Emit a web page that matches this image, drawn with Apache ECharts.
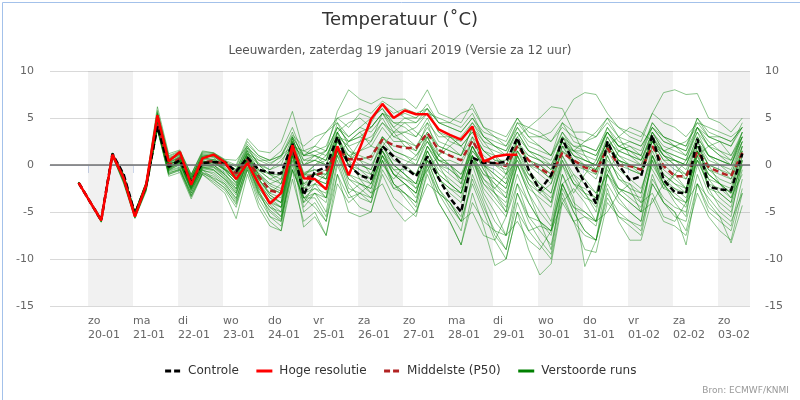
<!DOCTYPE html>
<html>
<head>
<meta charset="utf-8">
<script src="https://cdn.jsdelivr.net/npm/echarts@6/dist/echarts.min.js"></script>
<style>
html,body{margin:0;padding:0;background:#fff;}
#chart{width:800px;height:400px;}
</style>
</head>
<body>
<div id="chart"></div>
<script>
// ---- data ----
const dayNames = ['zo','ma','di','wo','do','vr','za','zo','ma','di','wo','do','vr','za','zo'];
const dayDates = ['20-01','21-01','22-01','23-01','24-01','25-01','26-01','27-01','28-01','29-01','30-01','31-01','01-02','02-02','03-02'];
// hours relative to 20-01 00:00 of first forecast step, and step size
const startHour = -5;
const stepHours = 6;

const controle = [-1.9,
 -3.9,-5.9,1.2,-1.0, -5.2,-2.2,4.1,-0.2, 0.5,-1.8,0.2,0.3, 0.3,-0.7,0.8,-0.5,
 -0.8,-0.9,2.3,-3.2, -0.7,-0.25,3.0,0.0, -1.1,-1.5,2.0,0.9, -0.25,-1.2,0.9,-1.4,
 -3.5,-5.0,0.8,0.2, 0.2,0.35,2.9,-0.5, -2.7,-1.1,2.8,0.2, -1.9,-4.1,2.5,0.0,
 -1.6,-1.2,3.2,-1.6, -2.9,-3.0,2.8,-2.3, -2.6,-2.7,1.2];

const hogeResolutie = [-1.9,
 -3.9,-5.9,1.1,-1.4, -5.5,-2.1,5.3,0.4, 1.4,-2.1,0.7,1.1, 0.3,-1.5,0.2,-2.0,
 -4.1,-3.0,2.1,-1.4, -1.5,-2.6,2.0,-1.1, 1.8,4.9,6.5,5.0, 5.8,5.4,5.4,3.8,
 3.2,2.7,4.1,0.35, 0.9,1.1,1.1];

const middelste = [-1.9,
 -3.9,-5.8,1.1,-1.3, -5.3,-2.2,4.5,0.0, 0.7,-1.9,0.3,0.4, 0.1,-0.9,0.6,-1.2,
 -2.7,-3.0,1.6,-1.4, -1.1,-0.7,1.8,0.6, 0.6,0.9,2.7,2.1, 1.8,1.8,3.4,1.6,
 1.0,0.5,2.6,0.5, 0.2,-0.1,2.0,0.5, -0.35,-1.1,1.3,0.5, -0.25,-0.7,1.8,0.0,
 -0.1,-0.5,2.0,-0.1, -1.2,-1.2,1.4,-0.2, -0.8,-1.2,1.3];

const member01 = [-1.9, -3.8,-5.8,1.2,-1.2, -5.4,-2.0,5.5,0.6, 1.3,-1.8,0.9,1.2, 0.5,-0.8,1.5,-1.5, -3.0,-2.0,2.5,-0.8, -0.5,-1.5,3.0,0.5, 2.5,4.5,6.5,5.5, 6.0,5.5,6.0,4.5, 4.0,3.5,5.0,3.0, 2.0,1.0,3.5,1.5, 0.5,-0.5,2.5,1.0, 0.0,-1.0,3.0,1.0, 0.5,0.0,3.5,1.5, 1.0,0.5,4.0,2.0, 1.0,0.0,3.5];
const member02 = [-1.9, -3.9,-6.0,1.0,-1.6, -5.6,-2.5,4.0,-0.5, 0.2,-2.8,-0.5,-1.0, -2.0,-3.5,0.0,-3.0, -5.0,-6.0,1.0,-4.5, -3.0,-5.0,1.5,-2.0, -3.5,-4.0,0.5,-2.5, -3.0,-4.5,0.0,-3.0, -5.0,-7.0,-1.0,-4.0, -7.5,-9.0,-3.0,-6.0, -8.0,-9.5,-2.5,-5.0, -7.0,-8.0,-1.0,-3.5, -5.0,-6.0,1.0,-2.0, -4.0,-5.5,1.5,-2.5, -4.5,-5.5,0.5];
const member03 = [-1.9, -3.9,-5.8,1.1,-1.3, -5.2,-2.1,4.6,0.0, 0.6,-2.0,0.3,0.5, 0.0,-1.0,1.0,-1.0, -2.5,-3.0,1.8,-1.5, -1.0,-0.5,2.0,1.0, 0.5,1.0,3.0,2.0, 2.0,1.5,3.5,1.5, 1.0,0.5,2.5,0.5, 0.0,-0.5,2.0,0.5, -0.5,-1.5,1.5,0.5, -0.5,-1.0,2.0,0.0, -0.5,-1.0,2.0,0.0, -1.0,-1.5,1.5,-0.5, -1.0,-1.5,1.5];
const member04 = [-2.0, -4.0,-6.1,1.3,-1.0, -5.0,-1.8,6.2,1.2, 1.6,-1.0,1.5,1.3, 0.5,0.0,2.8,1.5, 1.3,2.4,5.7,1.5, 2.0,1.5,5.7,8.0, 7.0,6.5,7.2,7.0, 7.0,6.0,8.0,5.5, 5.0,4.5,6.5,4.0, 3.5,3.0,5.0,3.0, 2.0,1.0,3.5,1.5, 0.5,0.0,2.5,0.5, -0.5,-1.0,2.5,1.0, 0.5,0.0,3.0,1.0, 0.0,-0.5,2.5];
const member05 = [-1.9, -3.9,-5.9,1.1,-1.5, -5.3,-2.3,4.2,-0.3, 0.5,-2.2,0.0,0.3, -0.5,-2.0,0.8,-1.0, -2.0,-1.5,2.8,0.0, 0.5,0.0,3.5,1.5, 1.0,0.5,3.0,1.5, 1.0,0.5,3.5,2.0, 1.5,1.0,4.0,2.5, 2.0,1.5,4.5,3.0, 3.0,3.5,5.0,7.0, 7.7,7.5,5.5,4.0, 3.5,3.0,5.5,7.7, 8.0,7.5,7.6,5.0, 4.5,3.5,5.0];
const member06 = [-1.9, -3.9,-5.9,1.2,-1.8, -5.5,-2.4,4.0,-0.8, -0.5,-3.0,-0.5,-1.5, -2.5,-4.0,-0.5,-3.5, -5.5,-6.5,0.5,-5.0, -4.0,-6.0,0.0,-3.0, -4.5,-5.0,-1.0,-3.5, -4.5,-5.5,-0.5,-3.0, -4.0,-5.5,0.0,-3.5, -6.0,-7.5,-2.0,-5.5, -7.0,-8.5,-3.0,-6.0, -9.0,-9.3,-4.0,-5.5, -6.5,-7.5,-2.0,-4.0, -5.5,-6.0,-1.0,-4.0, -5.5,-6.5,-1.5];
const member07 = [-1.9, -3.9,-5.8,1.0,-1.4, -5.2,-2.2,4.3,0.2, 0.8,-1.5,0.5,0.0, -1.0,-2.5,1.0,-2.0, -3.5,-4.5,1.5,-2.5, -2.0,-3.5,2.0,-1.0, -2.0,-3.0,1.0,-2.0, -3.0,-4.0,0.5,-2.5, -4.0,-6.0,-2.0,-5.0, -8.0,-10.0,-5.0,-9.0, -11.7,-10.5,-4.0,-6.0, -7.5,-8.0,-3.0,-5.0, -6.0,-7.0,-1.5,-3.5, -4.5,-5.0,0.0,-3.0, -4.0,-5.0,-0.5];
const member08 = [-1.9, -3.9,-5.9,1.1,-1.2, -5.3,-2.0,4.8,0.3, 0.9,-1.8,0.6,0.8, -0.5,-1.5,1.5,-0.5, -1.5,-2.0,2.0,-1.0, -0.5,-1.0,2.5,0.5, -0.5,-1.0,1.5,-1.0, -2.0,-3.5,0.0,-4.0, -6.0,-8.5,-3.0,-6.5, -10.7,-10.0,-5.0,-7.0, -6.5,-7.0,-1.0,-3.5, -10.8,-8.0,-3.5,-5.5, -6.0,-6.5,-2.0,-4.0, -5.0,-8.5,-2.0,-4.5, -5.5,-8.3,-4.3];
const member09 = [-1.9, -3.9,-5.9,1.2,-1.1, -5.0,-1.9,5.0,0.8, 1.2,-1.2,1.0,1.0, 0.2,-0.5,2.0,0.5, 0.5,1.0,3.5,0.5, 1.0,0.5,4.5,3.0, 4.0,5.0,6.0,4.5, 4.0,3.0,5.0,2.5, 2.0,1.0,4.0,2.0, 1.5,1.0,4.0,2.5, 2.0,1.0,4.5,2.5, 2.0,1.5,4.0,2.5, 2.0,1.5,4.5,3.0, 2.5,2.0,5.0,3.0, 2.5,2.0,4.0];
const member10 = [-1.9, -3.9,-6.0,1.0,-2.0, -5.7,-2.8,3.8,-1.2, -0.8,-3.6,-1.0,-2.0, -3.0,-5.7,-1.0,-4.5, -6.5,-7.0,-1.5,-6.0, -5.0,-7.5,-2.0,-4.0, -3.0,-2.0,1.0,-1.0, -1.5,-2.0,2.0,0.0, -1.0,-2.0,1.5,0.0, -1.0,-2.0,2.0,0.5, 0.0,-1.0,2.5,1.0, 0.5,0.0,3.0,1.0, 0.0,-0.5,3.0,1.5, 1.0,0.5,3.5,1.0, 0.5,0.0,3.0];
const member11 = [-1.8, -3.8,-5.7,1.2,-1.5, -5.4,-2.4,4.4,-0.5, 0.0,-2.5,-0.2,-0.5, -1.5,-3.0,0.5,-2.5, -4.0,-4.5,2.5,-3.5, -2.5,-3.0,3.5,0.0, -1.0,-1.5,2.0,0.0, -1.0,-2.0,1.5,-0.5, -1.5,-2.5,2.0,-0.5, -2.5,-3.5,1.0,-1.5, -3.0,-4.0,0.5,-2.0, -3.0,-3.5,1.0,-1.5, -2.5,-3.0,1.5,-1.0, -2.0,-3.0,1.0,-1.5, -2.0,-3.0,2.0];
const member12 = [-1.9, -3.9,-5.8,1.1,-1.0, -5.1,-2.0,4.9,0.5, 1.0,-1.3,0.8,1.0, 0.3,-0.5,2.2,1.0, 0.5,1.5,4.0,1.0, 1.5,2.0,5.0,4.0, 5.5,5.0,6.0,4.0, 3.0,2.0,3.0,0.0, -2.0,-3.0,1.0,-1.5, -3.0,-4.5,0.0,-3.0, -5.0,-6.5,-1.0,-4.0, -5.0,-6.0,0.0,-3.0, -4.0,-5.0,1.0,-2.0, -3.5,-4.0,2.0,-1.5, -3.0,-4.0,1.0];
const member13 = [-1.9, -3.9,-5.9,1.0,-1.3, -5.3,-2.3,4.5,-0.3, 0.4,-2.3,0.0,0.0, -0.8,-1.8,0.5,-1.5, -3.0,-3.5,2.0,-2.0, -1.5,-2.0,2.5,0.5, 1.5,2.5,4.5,3.0, 3.5,4.0,5.5,3.5, 2.5,2.0,3.5,1.5, 0.5,0.0,2.5,0.0, -1.0,-2.0,2.0,0.5, 0.0,-0.5,2.5,1.5, 1.0,0.5,3.5,1.5, 0.5,-0.5,2.5,0.5, 0.0,-1.0,2.5];
const member14 = [-1.9, -3.9,-5.9,1.1,-1.7, -5.5,-2.5,4.1,-0.7, -0.3,-3.0,-0.8,-1.2, -2.2,-3.8,0.2,-3.0, -4.5,-5.5,1.0,-4.0, -3.0,-4.0,1.0,-2.5, -3.0,-3.5,0.5,-2.0, -3.5,-5.0,-1.0,-4.0, -6.0,-8.5,-4.0,-6.0, -7.0,-7.5,-3.0,-5.5, -6.0,-7.0,-2.0,-4.5, -5.5,-6.0,-2.0,-4.0, -5.0,-6.0,-1.0,-4.0, -5.0,-7.0,-2.0,-5.0, -6.0,-7.0,-2.5];
const member15 = [-1.9, -3.9,-5.9,1.2,-1.3, -5.2,-2.1,4.7,0.2, 0.8,-1.6,0.6,0.6, -0.2,-1.2,1.2,-0.8, -2.0,-2.5,2.2,-1.2, 0.0,0.5,3.0,2.0, 2.5,3.0,4.5,3.5, 3.5,3.0,4.5,3.0, 3.0,2.5,4.5,3.0, 2.5,2.0,4.0,2.0, 1.5,1.0,3.0,2.0, 2.0,1.5,3.5,2.0, 2.5,2.0,4.0,2.5, 2.0,1.5,4.0,3.0, 3.0,2.5,4.0];
const member16 = [-1.9, -3.9,-5.8,1.1,-1.2, -5.2,-2.2,4.4,0.1, 0.5,-2.2,0.2,0.2, -0.5,-1.5,0.8,-1.2, -2.5,-3.0,3.0,-1.0, -1.0,-1.5,3.5,1.5, 0.5,0.0,2.0,0.5, 0.0,-1.0,2.0,0.0, -0.5,-1.5,2.0,0.0, -1.0,-2.0,1.5,-0.5, -2.0,-3.0,1.0,-1.0, -2.0,-3.0,1.5,-0.5, -1.5,-2.5,1.0,-1.0, -2.0,-2.5,1.5,-0.5, -1.5,-2.0,1.5];
const member17 = [-1.9, -3.9,-5.9,1.2,-1.4, -5.3,-2.3,4.3,-0.2, 0.3,-2.4,-0.3,-0.3, -1.3,-2.8,0.6,-2.0, -4.0,-5.0,1.5,-3.5, -3.5,-5.5,0.5,-3.0, -2.0,-2.5,1.5,-1.0, -2.0,-3.0,1.0,-1.5, -3.0,-4.0,0.5,-2.5, -4.0,-5.5,-1.0,-4.0, -6.0,-7.5,-2.0,-5.0, -7.0,-8.0,-2.5,-6.0, -8.0,-8.0,-3.5,-6.0, -6.5,-7.5,-3.0,-5.5, -7.0,-8.0,-3.0];
const member18 = [-1.9, -3.9,-5.9,1.1,-1.1, -5.1,-2.0,5.2,0.6, 1.1,-1.4,1.2,1.0, 0.0,-1.0,1.8,0.0, -1.0,-1.0,2.8,0.0, 1.0,0.5,4.0,3.0, 4.0,3.5,5.0,3.0, 2.5,1.5,4.5,1.0, 0.0,-2.0,3.0,0.0, -3.0,-5.0,1.0,-2.0, -4.0,-6.0,0.0,-3.0, -1.0,0.5,4.0,2.0, 1.5,1.0,4.5,3.0, 2.0,1.5,5.0,3.5, 3.0,2.5,4.0];
const member19 = [-1.9, -3.9,-6.0,1.1,-1.6, -5.4,-2.4,4.2,-0.6, -0.2,-2.7,-0.6,-0.8, -1.8,-3.2,0.4,-2.8, -4.5,-5.0,1.0,-3.0, -2.0,-2.5,2.0,0.0, -0.5,-1.5,1.5,-0.5, -1.5,-2.5,1.5,-1.0, -2.0,-3.0,1.0,-1.0, -1.5,-2.5,1.5,0.0, -0.5,-1.5,3.0,1.0, 0.5,0.0,2.5,0.5, 0.0,-1.0,3.0,1.0, 0.0,-1.0,2.5,0.0, -0.5,-1.5,2.0];
const member20 = [-1.9, -3.9,-5.9,1.0,-1.2, -5.3,-2.2,4.6,0.0, 0.7,-1.9,0.4,0.4, -0.3,-1.5,1.2,-0.5, -1.0,-1.5,2.5,0.5, 0.5,1.5,4.0,2.5, 3.0,2.5,5.5,4.0, 5.0,5.0,6.5,4.5, 4.5,4.0,5.5,3.0, 2.0,1.5,3.5,1.5, 1.0,0.0,2.5,0.5, 0.0,-0.5,2.0,0.5, 0.0,-0.5,2.5,0.5, 0.5,0.0,3.0,1.0, 0.5,0.0,3.0];
const member21 = [-1.9, -3.9,-6.0,0.9,-1.9, -5.6,-2.7,3.9,-1.0, -0.6,-3.3,-1.0,-1.8, -2.7,-4.5,-0.5,-4.0, -6.0,-7.0,-0.5,-6.6, -5.5,-7.5,-1.0,-5.0, -5.5,-5.0,-0.5,-2.5, -2.0,-3.0,1.0,-1.5, -2.5,-3.5,0.5,-2.0, -3.0,-4.0,0.0,-2.5, -3.5,-4.5,0.5,-2.0, -2.5,-3.5,1.0,-1.5, -2.0,-3.0,2.0,-0.5, -1.5,-2.5,1.5,-1.0, -2.0,-3.0,1.0];
const member22 = [-1.9, -3.9,-5.8,1.2,-1.1, -5.0,-1.8,5.6,0.9, 1.4,-1.1,1.3,1.2, 0.4,-0.2,2.5,1.0, 0.5,1.0,3.0,1.0, 1.5,1.0,3.0,2.5, 3.5,4.0,5.5,5.0, 5.5,5.0,6.0,4.5, 4.0,3.5,5.0,3.5, 3.0,2.5,5.0,3.5, 3.0,2.5,4.5,3.5, 3.5,3.0,4.5,3.0, 2.5,2.0,4.0,3.0, 2.5,2.0,4.5,3.0, 2.5,2.0,4.5];
const member23 = [-1.9, -3.9,-5.9,1.1,-1.4, -5.4,-2.3,4.4,-0.4, 0.2,-2.6,-0.4,-0.6, -1.5,-2.6,0.7,-1.8, -3.5,-4.0,2.0,-2.5, -1.5,-2.0,3.0,1.0, 0.0,-0.5,3.0,1.5, 1.0,0.0,3.0,0.5, 0.0,-1.5,2.0,-0.5, -2.0,-3.5,1.5,-1.0, -2.5,-4.0,1.0,-1.5, -3.0,-4.5,0.0,-2.5, -3.5,-4.5,0.5,-2.5, -3.0,-4.0,0.5,-2.0, -3.5,-4.5,0.0];
const member24 = [-1.9, -3.9,-5.9,1.0,-1.5, -5.3,-2.3,4.1,-0.4, 0.3,-2.4,-0.2,-0.2, -1.2,-2.5,0.2,-2.2, -3.8,-4.5,1.2,-3.0, -2.5,-3.5,1.5,-1.5, -2.5,-3.5,0.5,-2.0, -3.0,-4.0,0.5,-2.5, -4.5,-6.0,-1.5,-4.5, -7.0,-9.0,-4.0,-7.0, -8.5,-10.0,-3.5,-6.0, -5.5,-6.5,-1.0,-3.0, -4.0,-5.0,0.5,-2.0, -3.5,-4.5,1.0,-2.5, -3.0,-4.0,0.5];
const member25 = [-1.9, -3.9,-5.9,1.1,-1.3, -5.3,-2.2,4.7,0.3, 0.9,-1.5,0.8,0.5, -0.5,-1.0,1.3,0.0, -0.5,0.5,2.0,1.0, 2.0,3.5,4.5,2.0, 0.5,-1.0,2.0,3.5, 4.5,3.5,2.5,1.0, 3.0,2.0,0.5,-1.5, -2.5,-1.0,3.0,4.0, 5.0,6.2,6.0,3.5, 1.0,-0.5,2.0,3.0, 4.0,3.5,2.5,1.0, 0.0,-1.5,1.0,2.0, 2.5,1.0,3.0];
const member26 = [-1.9, -3.9,-6.0,1.0,-1.8, -5.5,-2.6,3.9,-0.9, -0.4,-3.2,-0.8,-1.6, -2.4,-4.2,-0.3,-3.2, -4.8,-5.8,0.0,-4.0, -2.0,-1.0,1.5,0.5, -1.5,-3.0,-2.0,-4.5, -6.0,-5.0,-2.0,-3.0, -4.0,-6.0,-5.0,-7.5, -8.0,-5.5,-2.0,-4.0, -6.0,-7.0,-4.0,-2.5, -4.0,-6.0,-5.0,-3.0, -2.0,-4.0,-3.0,-5.5, -6.0,-4.0,-2.0,-3.5, -5.0,-6.0,-3.0];
const member27 = [-1.9, -3.9,-5.9,1.1,-1.2, -5.2,-2.1,4.5,0.1, 0.6,-2.1,0.2,0.6, 0.2,-1.2,1.2,0.5, 0.0,1.0,2.0,1.5, 1.0,0.0,1.0,2.5, 3.5,2.0,1.5,0.0, -1.0,-2.5,-0.5,1.0, 2.0,3.0,4.5,2.5, 1.0,-1.0,0.5,-2.0, -3.0,-2.0,1.5,0.0, -1.5,-3.0,-1.0,1.5, 2.0,1.0,-0.5,-2.5, -1.0,0.5,2.0,0.0, -2.0,-3.0,0.0];
const member28 = [-1.9, -3.9,-5.8,1.2,-1.1, -5.1,-1.9,5.4,0.7, 1.2,-1.3,1.1,0.9, 0.1,-0.6,1.8,0.8, 0.2,0.8,3.2,2.0, 3.0,3.5,5.0,5.5, 6.0,5.5,6.8,6.0, 5.0,4.5,5.5,5.0, 4.5,5.5,6.0,4.0, 3.0,2.0,4.5,4.0, 3.5,2.5,4.0,3.0, 2.5,3.5,5.0,4.0, 3.0,2.5,5.5,4.5, 4.0,3.0,4.5,4.0, 3.5,3.0,4.0];
const member29 = [-1.9, -3.9,-5.9,1.1,-1.6, -5.4,-2.4,4.2,-0.6, 0.1,-2.6,-0.3,-0.5, -1.6,-3.0,0.3,-2.4, -4.2,-5.5,-0.5,-3.5, -4.5,-6.0,-1.0,-3.5, -3.0,-4.0,0.0,-1.5, 0.0,1.0,3.0,1.0, 0.0,-1.0,1.0,-3.0, -5.0,-7.5,-6.0,-8.0, -9.0,-7.0,-2.0,-1.0, -3.0,-5.0,0.5,-1.0, -2.5,-5.0,-4.0,-2.0, -1.0,-2.5,0.5,-1.0, -2.0,-3.5,-1.0];
const member30 = [-1.9, -3.9,-5.9,1.1,-1.3, -5.3,-2.3,4.4,-0.1, 0.5,-2.4,0.1,0.3, -0.4,-1.6,0.9,-0.6, -1.5,-1.0,1.5,0.0, 0.5,0.0,2.5,1.0, 1.5,2.0,4.0,2.5, 2.5,2.0,4.0,2.0, 1.5,1.0,3.0,1.5, 0.5,0.5,3.0,1.5, 1.0,0.5,3.5,2.0, 1.5,1.0,3.5,2.0, 1.5,0.5,3.0,1.0, 0.5,0.0,2.5,1.0, 0.5,0.0,2.5];
const member31 = [-1.9, -3.9,-6.0,1.0,-1.7, -5.6,-2.6,3.7,-1.0, -0.5,-3.4,-0.9,-1.4, -2.0,-3.6,-0.2,-2.6, -5.5,-6.0,-0.5,-3.5, -3.0,-3.5,1.0,-1.5, -2.0,-2.5,1.0,-0.5, -0.5,-1.0,2.0,0.5, 0.5,0.0,2.5,1.0, 0.0,-1.0,2.5,1.0, 0.5,-0.5,3.0,1.5, 1.0,0.5,3.5,2.0, 1.5,1.0,4.0,2.5, 2.0,1.0,3.5,2.0, 1.0,0.5,3.5];
const member32 = [-1.9, -3.9,-5.8,1.1,-1.0, -5.0,-1.9,5.8,1.0, 1.5,-1.0,1.4,1.3, 0.6,0.5,2.0,0.0, -1.0,-2.0,1.5,-1.0, 0.0,1.0,3.5,4.5, 5.0,4.0,5.5,3.5, 2.0,1.0,2.5,0.5, -0.5,-1.5,1.5,0.0, -1.5,-2.5,1.0,-1.0, -2.0,-3.0,2.0,1.5, 2.5,3.0,5.0,3.0, 1.0,0.0,2.5,1.5, 2.0,2.5,4.0,2.5, 1.5,0.5,3.0];
const member33 = [-1.9, -3.9,-5.9,1.2,-1.5, -5.4,-2.4,4.3,-0.4, 0.3,-2.5,-0.1,0.0, -1.0,-2.2,0.6,-1.4, -3.2,-4.0,1.2,-2.0, -1.0,-1.0,2.0,0.0, -1.0,-2.0,1.0,-1.0, -2.0,-3.0,0.5,-1.5, -2.5,-3.0,1.0,-1.0, -2.0,-3.0,0.5,-1.5, -2.5,-3.5,0.0,-2.0, -3.5,-4.0,-0.5,-2.5, -3.0,-4.0,0.0,-2.0, -2.5,-3.5,0.5,-2.0, -2.5,-3.5,0.5];
const member34 = [-1.9, -3.9,-5.9,1.0,-1.4, -5.3,-2.2,4.3,0.0, 0.6,-1.9,0.4,0.3, -0.6,-1.9,0.9,-1.0, -2.2,-2.8,2.2,-1.2, -1.0,-1.5,2.0,0.0, 0.0,-0.5,2.5,1.0, 0.5,0.0,2.5,0.5, 0.0,-1.0,2.0,0.0, -0.5,-1.5,2.5,0.5, 0.0,-1.0,2.0,0.0, -0.5,-1.5,2.0,0.5, 0.0,-0.5,2.5,0.5, -0.5,-1.0,2.0,0.0, -0.5,-1.0,2.0];
const member35 = [-1.9, -3.9,-5.9,1.1,-1.3, -5.3,-2.3,4.4,-0.2, 0.4,-2.2,0.0,-0.2, -1.0,-2.2,0.8,-1.6, -3.2,-4.0,1.8,-2.2, -1.5,-2.5,1.5,-1.0, -1.5,-2.0,2.0,0.0, -1.0,-2.0,1.5,-1.0, -2.0,-3.0,1.0,-2.0, -3.5,-5.0,0.0,-3.0, -6.0,-9.0,-2.0,-4.5, -5.0,-6.0,-1.0,-2.5, -3.0,-3.5,1.0,-1.5, -2.5,-3.0,1.5,-1.0, -2.0,-2.5,1.5];
const member36 = [-1.9, -3.9,-5.8,1.1,-1.1, -5.1,-2.0,5.0,0.5, 1.1,-1.5,0.9,0.9, 0.0,-0.8,1.6,0.2, -0.5,0.0,3.0,1.0, 1.0,1.5,4.0,2.5, 3.0,4.0,5.5,4.5, 4.5,4.5,6.0,3.5, 3.0,2.0,3.5,1.5, 1.0,0.0,2.0,1.0, 0.5,0.0,2.5,1.5, 1.5,1.0,3.5,1.5, 1.0,0.5,3.5,2.0, 1.5,1.0,4.0,2.0, 1.5,1.0,3.5];

const members = [member01,member02,member03,member04,member05,member06,member07,member08,
  member09,member10,member11,member12,member13,member14,member15,member16,
  member17,member18,member19,member20,member21,member22,member23,member24,
  member25,member26,member27,member28,member29,member30,member31,member32,
  member33,member34,member35,member36];

const yTicks = [-15,-10,-5,0,5,10];

// ---- build ----
const xMin = -20.3, xMax = 353.1;
function toPoints(values){ return values.map((v,i)=>[startHour + i*stepHours, v]); }
const dayTicks = dayDates.map((d,i)=>i*24);
const bands = [];
dayTicks.forEach((t,i)=>{ if(i%2===0){ bands.push([{xAxis:t},{xAxis:Math.min(t+24,xMax)}]); } });

const series = [];
members.forEach((m,idx)=>{
  series.push({
    type:'line', name:'Verstoorde runs', data:toPoints(m), symbol:'none', silent:true,
    lineStyle:{color:'#008000', width:1, opacity:0.45}, itemStyle:{color:'#008000'},
    z:2,
    markArea: idx===0 ? {silent:true, itemStyle:{color:'rgba(0,0,0,0.055)'}, data:bands} : undefined,
    markLine: idx===0 ? {silent:true, symbol:'none', label:{show:false}, lineStyle:{color:'#707070', width:1.5, type:'solid'}, data:[{yAxis:0}]} : undefined
  });
});
series.push({type:'line', name:'Middelste (P50)', data:toPoints(middelste), symbol:'none', silent:true,
  lineStyle:{color:'#b22222', width:2.5, type:[6,4]}, itemStyle:{color:'#b22222'}, z:3});
series.push({type:'line', name:'Controle', data:toPoints(controle), symbol:'none', silent:true,
  lineStyle:{color:'#000', width:2.5, type:[6,3]}, itemStyle:{color:'#000'}, z:4});
series.push({type:'line', name:'Hoge resolutie', data:toPoints(hogeResolutie), symbol:'none', silent:true,
  lineStyle:{color:'#ff0000', width:2.5}, itemStyle:{color:'#ff0000'}, z:5});

const chart = echarts.init(document.getElementById('chart'));
chart.setOption({
  animation:false,
  backgroundColor:'#fff',
  textStyle:{fontFamily:'DejaVu Sans'},
  title:[
    {text:'Temperatuur (\u02DAC)', left:'center', top:6, textStyle:{fontSize:18, fontWeight:'normal', color:'#333', fontFamily:'DejaVu Sans'}},
    {text:'Leeuwarden, zaterdag 19 januari 2019 (Versie za 12 uur)', left:'center', top:40, textStyle:{fontSize:12, fontWeight:'normal', color:'#555', fontFamily:'DejaVu Sans'}}
  ],
  legend:{
    top:360, left:'center', itemWidth:16, itemHeight:10, itemGap:16,
    textStyle:{fontSize:12, color:'#333', fontFamily:'DejaVu Sans', padding:[0,0,0,2]},
    data:[
      {name:'Controle', itemStyle:{opacity:0}, lineStyle:{color:'#000', width:3, type:[6,3]}},
      {name:'Hoge resolutie', itemStyle:{opacity:0}, lineStyle:{color:'#ff0000', width:3}},
      {name:'Middelste (P50)', itemStyle:{opacity:0}, lineStyle:{color:'#b22222', width:3, type:[6,3]}},
      {name:'Verstoorde runs', itemStyle:{opacity:0}, lineStyle:{color:'#008000', width:3, opacity:1}}
    ]
  },
  grid:{left:50, right:50, top:71, bottom:94, containLabel:false},
  xAxis:{
    type:'value', min:xMin, max:xMax,
    axisLine:{show:true, lineStyle:{color:'#ccd6eb'}},
    axisTick:{show:true, customValues:dayTicks, length:8, lineStyle:{color:'#ccd6eb'}},
    splitLine:{show:false},
    axisLabel:{customValues:dayTicks, align:'left', margin:8, fontSize:11, lineHeight:14, color:'#666',
      formatter:(v)=>{ const i=Math.round(v/24); return dayNames[i]+'\n'+dayDates[i]; }}
  },
  yAxis:[
    {type:'value', min:yTicks[0], max:yTicks[yTicks.length-1], interval:5, position:'left',
     axisLine:{show:false}, axisTick:{show:false},
     splitLine:{show:true, lineStyle:{color:'#d9d9d9'}},
     axisLabel:{margin:16, fontSize:11, color:'#666'}},
    {type:'value', min:yTicks[0], max:yTicks[yTicks.length-1], interval:5, position:'right',
     axisLine:{show:false}, axisTick:{show:false}, splitLine:{show:false},
     axisLabel:{margin:15, fontSize:11, color:'#666'}}
  ],
  graphic:[
    {type:'rect', left:0, top:0, silent:true, shape:{x:0.5, y:0.5, width:798, height:398}, style:{fill:'none', stroke:'#a3c1ea', lineWidth:1}},
    {type:'text', right:11, top:386, silent:true, style:{text:'Bron: ECMWF/KNMI', fill:'#999', font:'9px DejaVu Sans'}}
  ],
  series:series
});
</script>
</body>
</html>
